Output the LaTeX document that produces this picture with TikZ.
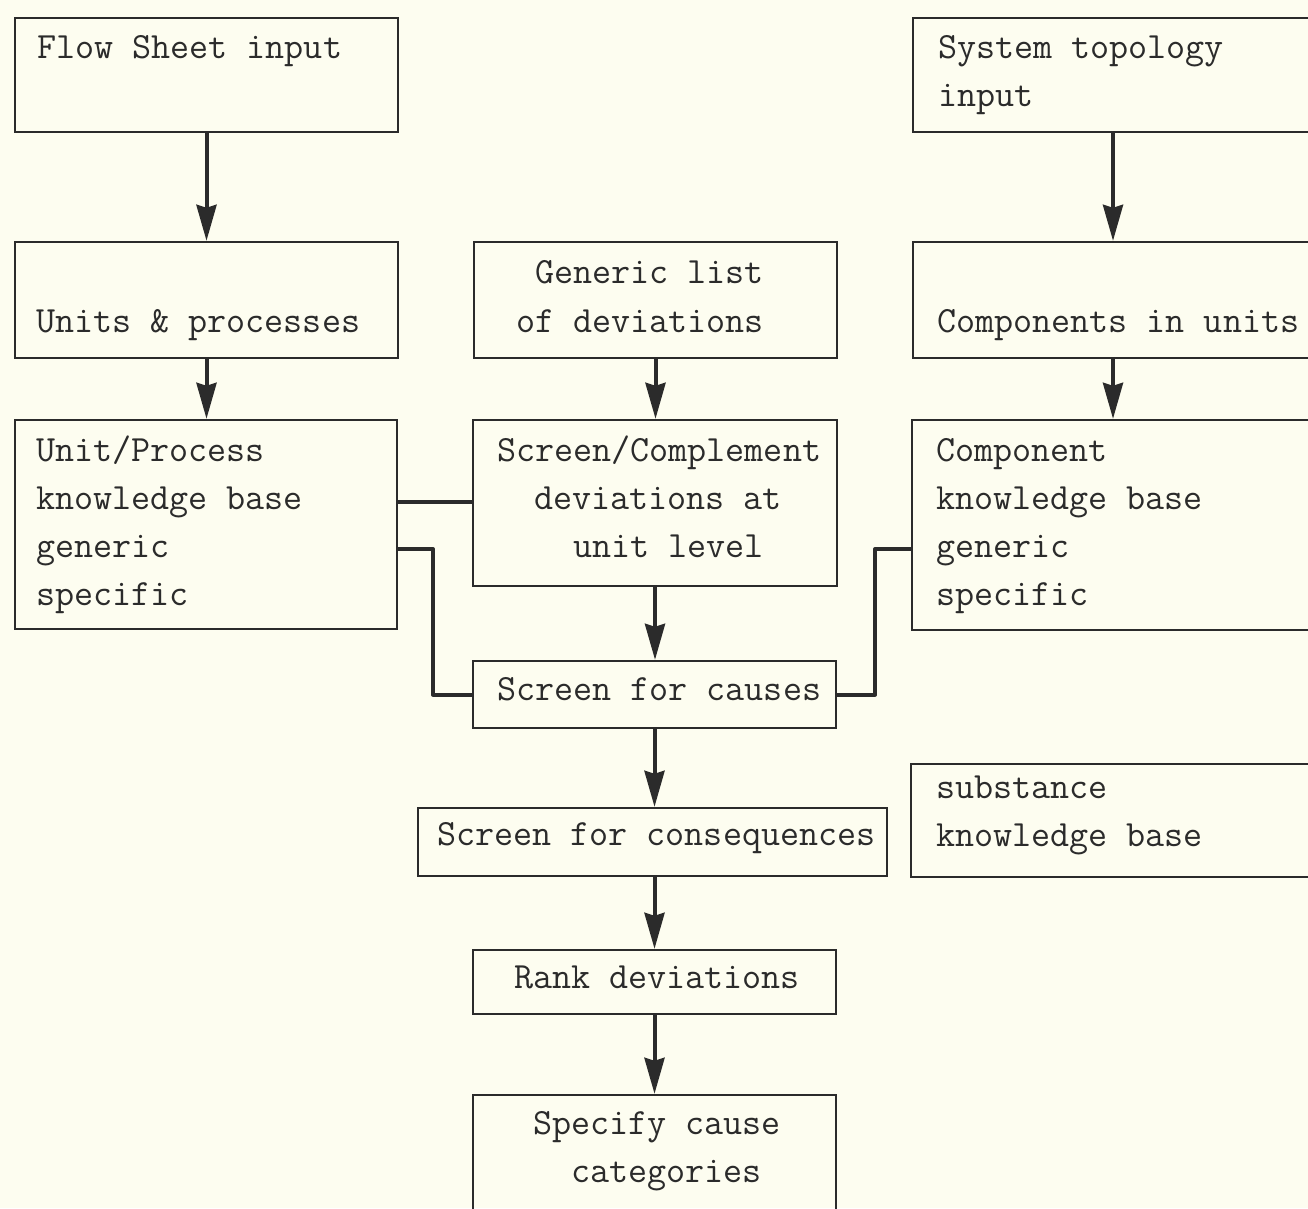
\documentclass[tikz,border=0pt]{standalone}
\usepackage{fontspec}
\usepackage{tikz}
\usetikzlibrary{arrows.meta, calc}

\definecolor{paper}{HTML}{FDFDF0}
\definecolor{ink}{HTML}{2B2B2B}

\tikzset{
  box/.style={draw=ink, line width=2.4pt, inner sep=0pt},
  txt/.style={anchor=base west, inner sep=0pt, text=ink,
    font=\ttfamily\fontsize{37}{48}\selectfont},
  flow/.style={draw=ink, line width=4pt,
    -{Stealth[length=36pt, width=20pt, inset=3pt]}},
  link/.style={draw=ink, line width=4pt, line join=round},
}

\begin{document}
\begin{tikzpicture}[x=1pt, y=-1pt]

  \fill[paper] (0,0) rectangle (1308,1208);
  \useasboundingbox (0,0) rectangle (1308,1208);

  % boxes
  \node[box, minimum width=383pt, minimum height=114pt] (flow)    at (206.5,75)   {};
  \node[box, minimum width=400pt, minimum height=114pt] (systop)  at (1113,75)    {};
  \node[box, minimum width=383pt, minimum height=116pt] (units)   at (206.5,300)  {};
  \node[box, minimum width=363pt, minimum height=116pt] (generic) at (655.5,300)  {};
  \node[box, minimum width=400pt, minimum height=116pt] (comps)   at (1113,300)   {};
  \node[box, minimum width=382pt, minimum height=209pt] (upkb)    at (206,524.5)  {};
  \node[box, minimum width=364pt, minimum height=166pt] (scrn)    at (655,503)    {};
  \node[box, minimum width=402pt, minimum height=210pt] (ckb)     at (1113,525)   {};
  \node[box, minimum width=363pt, minimum height=67pt]  (causes)  at (654.5,694.5) {};
  \node[box, minimum width=469pt, minimum height=68pt]  (cons)    at (652.5,842)  {};
  \node[box, minimum width=404pt, minimum height=113pt] (subst)   at (1113,820.5) {};
  \node[box, minimum width=363pt, minimum height=64pt]  (rank)    at (654.5,982)  {};
  \node[box, minimum width=363pt, minimum height=130pt] (spec)    at (654.5,1160) {};

  % texts
  \node[txt] (t1)  at (37,58)    {Flow Sheet input};
  \node[txt] (t2a) at (938,58)   {System topology};
  \node[txt] (t2b) at (938,106)  {input};
  \node[txt] (t3)  at (36,332)   {Units \& processes};
  \node[txt] (t4a) at (535,283)  {Generic list};
  \node[txt] (t4b) at (516,332)  {of deviations};
  \node[txt] (t5)  at (937,332)  {Components in units};
  \node[txt] (t6a) at (36,461)   {Unit/Process};
  \node[txt] (t6b) at (36,509)   {knowledge base};
  \node[txt] (t6c) at (36,557)   {generic};
  \node[txt] (t6d) at (36,605)   {specific};
  \node[txt] (t7a) at (497,461)  {Screen/Complement};
  \node[txt] (t7b) at (534,509)  {deviations at};
  \node[txt] (t7c) at (573,557)  {unit level};
  \node[txt] (t8a) at (936,461)  {Component};
  \node[txt] (t8b) at (936,509)  {knowledge base};
  \node[txt] (t8c) at (936,557)  {generic};
  \node[txt] (t8d) at (936,605)  {specific};
  \node[txt] (t9)  at (497,700)  {Screen for causes};
  \node[txt] (t10) at (437,845)  {Screen for consequences};
  \node[txt] (t11a) at (936,798) {substance};
  \node[txt] (t11b) at (936,846) {knowledge base};
  \node[txt] (t12) at (514,988)  {Rank deviations};
  \node[txt] (t13a) at (533,1134) {Specify cause};
  \node[txt] (t13b) at (571,1182) {categories};

  % arrows
  \draw[flow] (flow) -- (units);
  \draw[flow] (systop) -- (comps);
  \draw[flow] (units.south) -- (units.south |- upkb.north);
  \draw[flow] (generic.south) -- (generic.south |- scrn.north);
  \draw[flow] (comps) -- (ckb);
  \draw[flow] (scrn.south) -- (scrn.south |- causes.north);
  \draw[flow] (causes.south) -- (causes.south |- cons.north);
  \draw[flow] (causes.south |- cons.south) -- (causes.south |- rank.north);
  \draw[flow] (rank.south) -- (rank.south |- spec.north);

  % plain links
  \draw[link] (upkb.east |- 0,502) -- (scrn.west |- 0,502);
  \draw[link] (upkb.east |- 0,549) -- (433,549) |- (causes.west);
  \draw[link] (causes.east) -| (875,549) -- (ckb.west |- 0,549);

\end{tikzpicture}
\end{document}
